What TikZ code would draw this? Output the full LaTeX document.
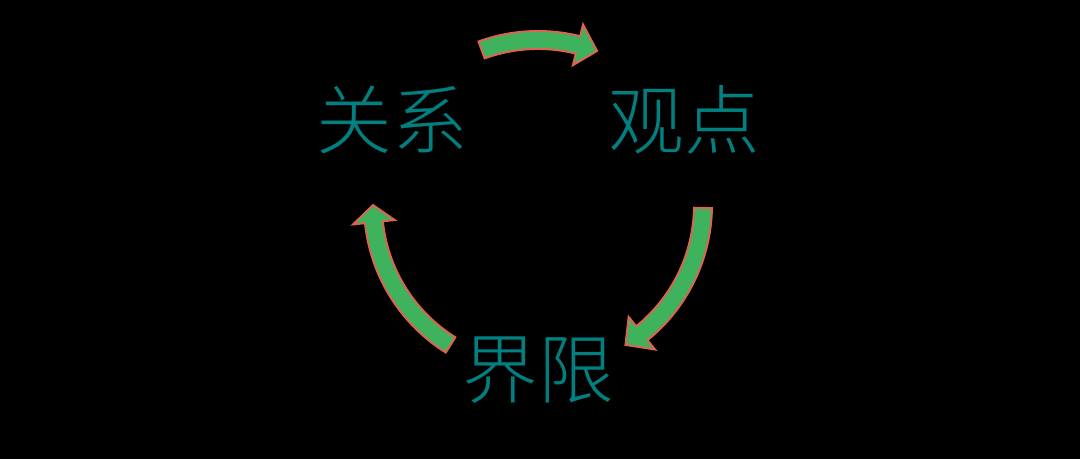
\documentclass[tikz,border=0pt]{standalone}
\usepackage{fontspec}
\newfontfamily\cjk[UprightFont=* Light]{Noto Sans CJK SC}
\definecolor{labelteal}{RGB}{0,128,128}
\definecolor{arrowgreen}{RGB}{62,178,92}
\definecolor{arrowrim}{RGB}{222,100,80}
\tikzset{
	cycle label/.style={text=labelteal, font=\cjk\fontsize{43}{43}\selectfont, inner sep=0pt},
	bent arrow/.style={fill=arrowgreen, draw=arrowrim, line width=1.1pt, line join=miter},
}
% \cyclearrow{start angle}{head angle}{tip angle}
\newcommand{\cyclearrow}[3]{%
	\draw[bent arrow] (#1:3.48) arc[start angle=#1, end angle=#2, radius=3.48]
		-- (#2:3.72) -- (#3:3.3) -- (#2:2.88) -- (#2:3.12)
		arc[start angle=#2, end angle=#1, radius=3.12] -- cycle;}
\begin{document}
\begin{tikzpicture}
		% Background
		\fill[black] (0,0) rectangle (21.6,9.18);
		\useasboundingbox (0,0) rectangle (21.6,9.18);
		\coordinate (c) at (10.76,5.08);

		% Labels
		\node[cycle label] (guanxi) at (7.84,6.78) {关系};
		\node[cycle label] (guandian) at (13.68,6.78) {观点};
		\node[cycle label] (jiexian) at (10.76,1.78) {界限};

		% Arrows round the cycle
		\begin{scope}[shift={(c)}]
			\cyclearrow{110}{76}{69}
			\cyclearrow{-1}{-51}{-58}
			\cyclearrow{238}{186}{180}
		\end{scope}
	\end{tikzpicture}
\end{document}
